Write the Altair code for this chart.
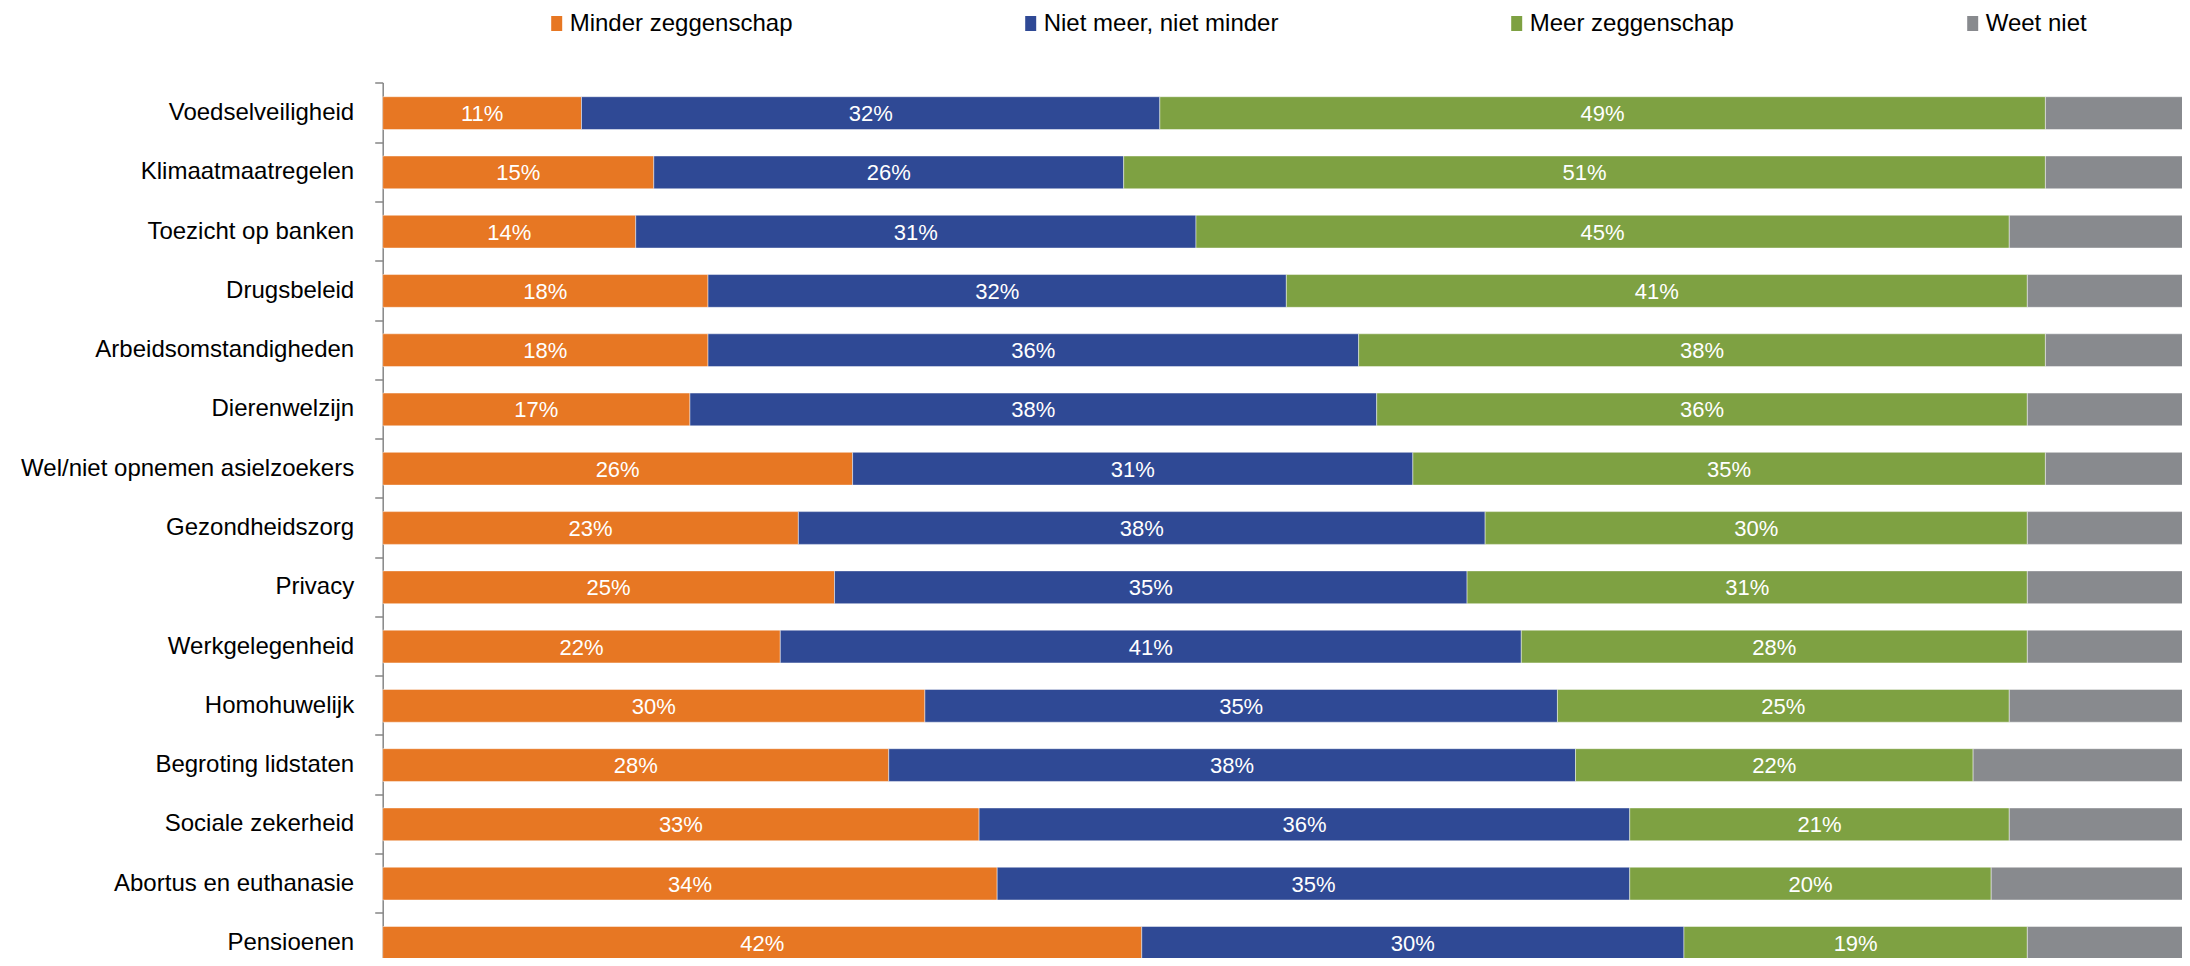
import altair as alt
import pandas as pd

categories = [
    "Voedselveiligheid", "Klimaatmaatregelen", "Toezicht op banken", "Drugsbeleid",
    "Arbeidsomstandigheden", "Dierenwelzijn", "Wel/niet opnemen asielzoekers",
    "Gezondheidszorg", "Privacy", "Werkgelegenheid", "Homohuwelijk",
    "Begroting lidstaten", "Sociale zekerheid", "Abortus en euthanasie", "Pensioenen",
]
answers = ["Minder zeggenschap", "Niet meer, niet minder", "Meer zeggenschap", "Weet niet"]
colors = ["#E77723", "#2F4995", "#7EA142", "#888A8E"]

minder = [11, 15, 14, 18, 18, 17, 26, 23, 25, 22, 30, 28, 33, 34, 42]
neutraal = [32, 26, 31, 32, 36, 38, 31, 38, 35, 41, 35, 38, 36, 35, 30]
meer = [49, 51, 45, 41, 38, 36, 35, 30, 31, 28, 25, 22, 21, 20, 19]
weet_niet = [8, 8, 10, 9, 8, 9, 8, 9, 9, 9, 10, 12, 10, 11, 9]

rows = []
for i, c in enumerate(categories):
    for k, (a, vals) in enumerate(zip(answers, [minder, neutraal, meer, weet_niet])):
        rows.append({"cat": c, "answer": a, "order": k, "value": vals[i]})
df = pd.DataFrame(rows)

FONT = "Liberation Sans"
PAD_LEFT = 374.7
PAD_TOP = 74.5
W = 2174 - PAD_LEFT          # visible plot width (page body width limit)
X_RANGE = 1807.3             # full 0-100% extent, runs to the page edge
H_VIEW = 950 - PAD_TOP
Y_RANGE = 891
P_INNER = 0.447
TICK_POS = -(P_INNER / 2) / (1 - P_INNER)   # ticks midway in the gaps between bars

y_enc = alt.Y(
    "cat:N",
    sort=categories,
    scale=alt.Scale(paddingInner=P_INNER, paddingOuter=0.24, range=[0, Y_RANGE]),
    axis=alt.Axis(
        title=None,
        labelFont=FONT,
        labelFontSize=24,
        labelColor="#000000",
        labelPadding=21,
        labelLimit=500,
        tickSize=8,
        bandPosition=TICK_POS,
        tickColor="#868686",
        domainColor="#868686",
        tickWidth=1.5,
        domainWidth=1.5,
        grid=False,
    ),
)

base = alt.Chart(df).transform_stack(
    stack="value",
    groupby=["cat"],
    as_=["x0", "x1"],
    sort=[alt.SortField("order", order="ascending")],
)

bars = base.mark_bar(stroke="white", strokeWidth=1, strokeOpacity=0.45).encode(
    y=y_enc,
    x=alt.X("x0:Q", scale=alt.Scale(domain=[0, 100], nice=False, range=[0, X_RANGE]), axis=None),
    x2="x1:Q",
    color=alt.Color(
        "answer:N",
        title=None,
        sort=answers,
        scale=alt.Scale(domain=answers, range=colors),
        legend=alt.Legend(
            orient="none",
            legendX=162,
            legendY=-71,
            direction="horizontal",
            columns=4,
            columnPadding=226,
            symbolType="M-0.733,-1H0.733V1H-0.733Z",
            symbolSize=225,
            symbolStrokeWidth=0,
            symbolOpacity=1,
            labelFont=FONT,
            labelFontSize=24,
            labelColor="#000000",
            labelOffset=1,
            labelLimit=600,
            padding=0,
        ),
    ),
    order=alt.Order("order:Q"),
)

labels = base.transform_filter(
    "datum.answer != 'Weet niet'"
).transform_calculate(
    mid="(datum.x0 + datum.x1) / 2",
    label="datum.value + '%'",
).mark_text(
    color="white", font=FONT, fontSize=22, baseline="middle", align="center", dy=1
).encode(
    y=alt.Y("cat:N", sort=categories),
    x=alt.X("mid:Q"),
    text="label:N",
)

chart = (
    alt.layer(bars, labels)
    .properties(
        width=W,
        height=H_VIEW,
        autosize=alt.AutoSizeParams(type="none"),
        padding={"left": PAD_LEFT, "top": PAD_TOP, "right": 0, "bottom": 0},
        background="white",
    )
    .configure_view(strokeWidth=0)
)

chart.save("out.html", embed_options={"renderer": "svg", "actions": False})
